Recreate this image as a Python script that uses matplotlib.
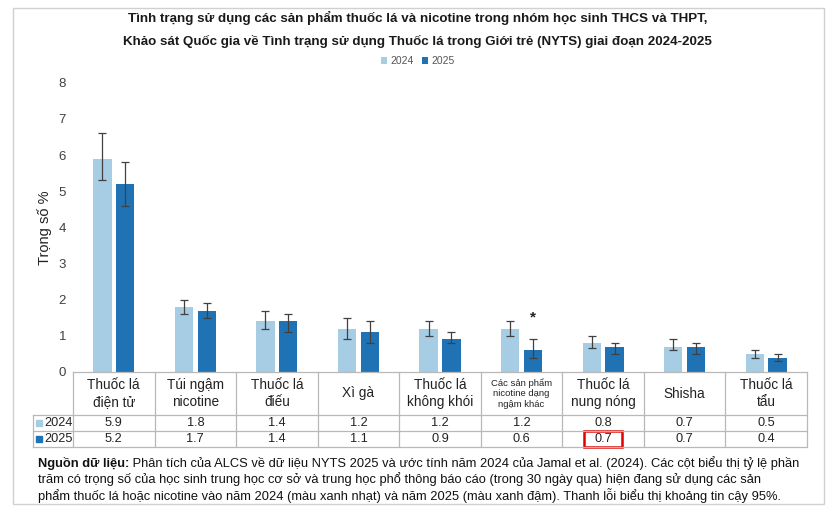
import matplotlib
matplotlib.use("Agg")
import matplotlib.pyplot as plt
import numpy as np
from matplotlib.lines import Line2D
from matplotlib.patches import Rectangle
from matplotlib.transforms import blended_transform_factory

plt.rcParams['font.family'] = ['Liberation Sans', 'DejaVu Sans']

LIGHT = '#a6cde4'
DARK = '#1f73b4'

categories = ['Thuốc lá\nđiện tử', 'Túi ngậm\nnicotine', 'Thuốc lá\nđiếu', 'Xì gà',
              'Thuốc lá\nkhông khói', 'Các sản phẩm\nnicotine dạng\nngậm khác',
              'Thuốc lá\nnung nóng', 'Shisha', 'Thuốc lá\ntẩu']
years = ['2024', '2025']
v2024 = [5.9, 1.8, 1.4, 1.2, 1.2, 1.2, 0.8, 0.7, 0.5]
v2025 = [5.2, 1.7, 1.4, 1.1, 0.9, 0.6, 0.7, 0.7, 0.4]
lo2024 = [5.3, 1.6, 1.2, 0.9, 1.0, 1.0, 0.65, 0.6, 0.4]
hi2024 = [6.6, 2.0, 1.7, 1.5, 1.4, 1.4, 1.0, 0.9, 0.6]
lo2025 = [4.6, 1.5, 1.1, 0.8, 0.8, 0.4, 0.5, 0.5, 0.3]
hi2025 = [5.8, 1.9, 1.6, 1.4, 1.1, 0.9, 0.8, 0.8, 0.5]
star_cat = 5      # significant change marker
star_y = 1.5
highlight_cat = 6  # red box in 2025 row

W, H = 835, 514
fig = plt.figure(figsize=(W / 100, H / 100), dpi=100)

def fy(p):
    return 1 - p / H

def fx(p):
    return p / W

# outer border
fig.add_artist(Rectangle((fx(13), fy(504)), fx(824) - fx(13), fy(8) - fy(504),
                         transform=fig.transFigure, fill=False, ec='#d0d0d0', lw=1))

ax = fig.add_axes([fx(73), fy(372), fx(807) - fx(73), fy(82.7) - fy(372)])
x = np.arange(len(categories))
bw = 0.225
off = 0.14
e24 = [np.array(v2024) - np.array(lo2024), np.array(hi2024) - np.array(v2024)]
e25 = [np.array(v2025) - np.array(lo2025), np.array(hi2025) - np.array(v2025)]
ax.bar(x - off, v2024, bw, color=LIGHT, yerr=e24, capsize=3,
       error_kw=dict(ecolor='#404040', elinewidth=0.9, capthick=0.9), label=years[0])
ax.bar(x + off, v2025, bw, color=DARK, yerr=e25, capsize=3,
       error_kw=dict(ecolor='#404040', elinewidth=0.9, capthick=0.9), label=years[1])
ax.text(x[star_cat] + off, star_y, '*', ha='center', va='center', fontsize=11,
        fontweight='bold', color='#222222')

ax.set_xlim(-0.5, len(categories) - 0.5)
ax.set_ylim(0, 8)
ax.set_yticks(range(0, 9))
ax.tick_params(axis='y', length=0, labelsize=9.5, colors='#404040', pad=5)
ax.set_xticks([])
for s in ['top', 'right', 'left', 'bottom']:
    ax.spines[s].set_visible(False)
ax.set_ylabel('Trọng số %', fontsize=10.5, color='#222222', labelpad=5)

# data table under the axis
tr = blended_transform_factory(ax.transData, fig.transFigure)
grid_c = '#b8b8b8'
rows_y = [372, 415, 431, 447]
left_x = -0.5 - 40 / 81.5
right_x = len(categories) - 0.5
fig.add_artist(Line2D([-0.5, right_x], [fy(372)] * 2, transform=tr, color=grid_c, lw=0.9))
for yy in rows_y[1:]:
    fig.add_artist(Line2D([left_x, right_x], [fy(yy)] * 2, transform=tr, color=grid_c, lw=0.9))
for i in range(len(categories) + 1):
    fig.add_artist(Line2D([i - 0.5] * 2, [fy(372), fy(447)], transform=tr, color=grid_c, lw=0.9))
fig.add_artist(Line2D([left_x] * 2, [fy(415), fy(447)], transform=tr, color=grid_c, lw=0.9))

for i, c in enumerate(categories):
    small = c.count('\n') == 2
    ax.text(i, fy(393.5), c, transform=tr, ha='center', va='center',
            fontsize=6.8 if small else 9.8, color='#222222', linespacing=1.2 if small else 1.25)
    ax.text(i, fy(423), f'{v2024[i]}', transform=tr, ha='center', va='center', fontsize=9.2, color='#222222')
    ax.text(i, fy(439), f'{v2025[i]}', transform=tr, ha='center', va='center', fontsize=9.2, color='#222222')

for yy, lab, col in [(423, years[0], LIGHT), (439, years[1], DARK)]:
    fig.add_artist(Rectangle((left_x + 0.04, fy(yy) - 0.006), 0.07, 0.012,
                             transform=tr, color=col))
    ax.text(left_x + 0.14, fy(yy), lab, transform=tr, ha='left', va='center',
            fontsize=9.2, color='#222222')

# red highlight box
fig.add_artist(Rectangle((highlight_cat - 0.23, fy(447)), 0.46, fy(431) - fy(447),
                         transform=tr, fill=False, ec='#e00000', lw=1.8))

# title and legend
fig.text(0.5, fy(18), 'Tình trạng sử dụng các sản phẩm thuốc lá và nicotine trong nhóm học sinh THCS và THPT,',
         ha='center', va='center', fontsize=9.65, fontweight='bold', color='#1a1a1a')
fig.text(0.5, fy(41), 'Khảo sát Quốc gia về Tình trạng sử dụng Thuốc lá trong Giới trẻ (NYTS) giai đoạn 2024-2025',
         ha='center', va='center', fontsize=9.65, fontweight='bold', color='#1a1a1a')
fig.legend(loc='center', bbox_to_anchor=(0.5, fy(61)), ncol=2, frameon=False, fontsize=7.5,
           handlelength=0.6, handleheight=0.6, handletextpad=0.3, columnspacing=0.8,
           labelcolor='#555555')

# footnote
notes = [
    ('Nguồn dữ liệu:', ' Phân tích của ALCS về dữ liệu NYTS 2025 và ước tính năm 2024 của Jamal et al. (2024). Các cột biểu thị tỷ lệ phần'),
    ('', 'trăm có trọng số của học sinh trung học cơ sở và trung học phổ thông báo cáo (trong 30 ngày qua) hiện đang sử dụng các sản'),
    ('', 'phẩm thuốc lá hoặc nicotine vào năm 2024 (màu xanh nhạt) và năm 2025 (màu xanh đậm). Thanh lỗi biểu thị khoảng tin cậy 95%.'),
]
for k, (b, t) in enumerate(notes):
    yy = fy(463 + 16.3 * k)
    if b:
        tb = fig.text(fx(38), yy, b, ha='left', va='center', fontsize=9.3, fontweight='bold', color='#111111')
        fig.canvas.draw()
        bb = tb.get_window_extent()
        fig.text(bb.x1 / W, yy, t, ha='left', va='center', fontsize=9.3, color='#111111')
    else:
        fig.text(fx(38), yy, t, ha='left', va='center', fontsize=9.3, color='#111111')

fig.savefig('out.png', dpi=100)
